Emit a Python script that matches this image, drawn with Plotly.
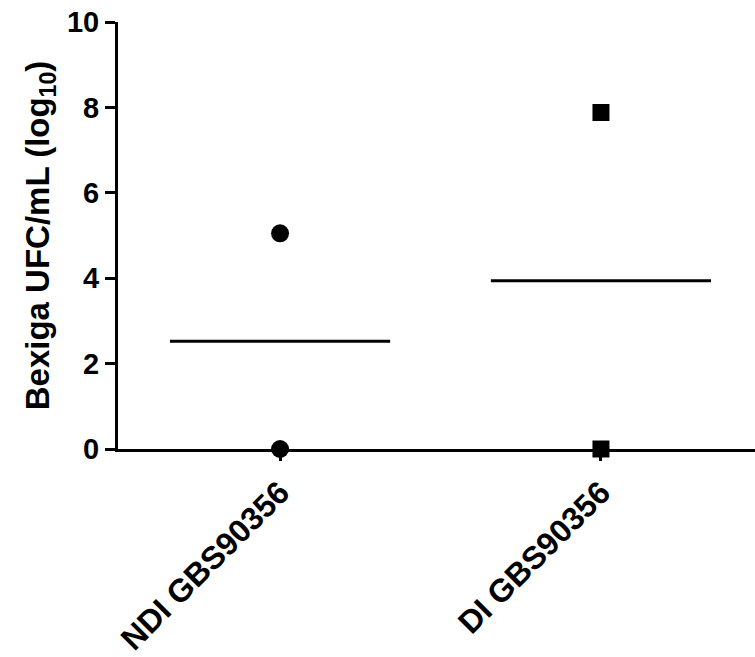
import numpy as np
import plotly.graph_objects as go

categories = ["NDI GBS90356", "DI GBS90356"]
ndi_values = [5.05, 0.0]
di_values = [7.88, 0.0]
y_ticks = [0, 2, 4, 6, 8, 10]

FONT = "Liberation Sans, Arial, sans-serif"

fig = go.Figure()

groups = [(0, ndi_values, "circle"), (1, di_values, "square")]
half = 0.343
for xpos, vals, sym in groups:
    m = float(np.mean(vals))
    fig.add_trace(go.Scatter(
        x=[xpos - half, xpos + half], y=[m, m], mode="lines",
        line=dict(color="black", width=3), showlegend=False, hoverinfo="skip",
        cliponaxis=False))
    fig.add_trace(go.Scatter(
        x=[xpos] * len(vals), y=vals, mode="markers",
        marker=dict(symbol=sym, size=17 if sym == "square" else 18, color="black",
                    line=dict(width=0)),
        showlegend=False, cliponaxis=False))

fig.update_layout(
    width=755, height=657,
    margin=dict(l=118, r=0, t=22, b=206),
    paper_bgcolor="white", plot_bgcolor="white",
    font=dict(family=FONT, color="black"),
    xaxis=dict(
        range=[-0.505, 1.48], tickvals=[0, 1], ticktext=[f"<b>{c}</b>" for c in categories],
        tickangle=-45, tickfont=dict(size=32, family=FONT, color="black"),
        showline=True, linecolor="black", linewidth=3,
        ticks="outside", ticklen=9, tickwidth=3, tickcolor="black",
        showgrid=False, zeroline=False,
    ),
    yaxis=dict(
        range=[0, 10], tickvals=y_ticks, ticktext=[f"<b>{t}</b>" for t in y_ticks],
        tickfont=dict(size=29, family=FONT, color="black"),
        showline=True, linecolor="black", linewidth=3,
        ticks="outside", ticklen=10, tickwidth=2.5, tickcolor="black",
        showgrid=False, zeroline=False,
        title=dict(text="<b>Bexiga UFC/mL (log<sub>10</sub>)</b>",
                   font=dict(size=33, family=FONT, color="black"), standoff=8),
    ),
)

fig.write_html("out.html")
